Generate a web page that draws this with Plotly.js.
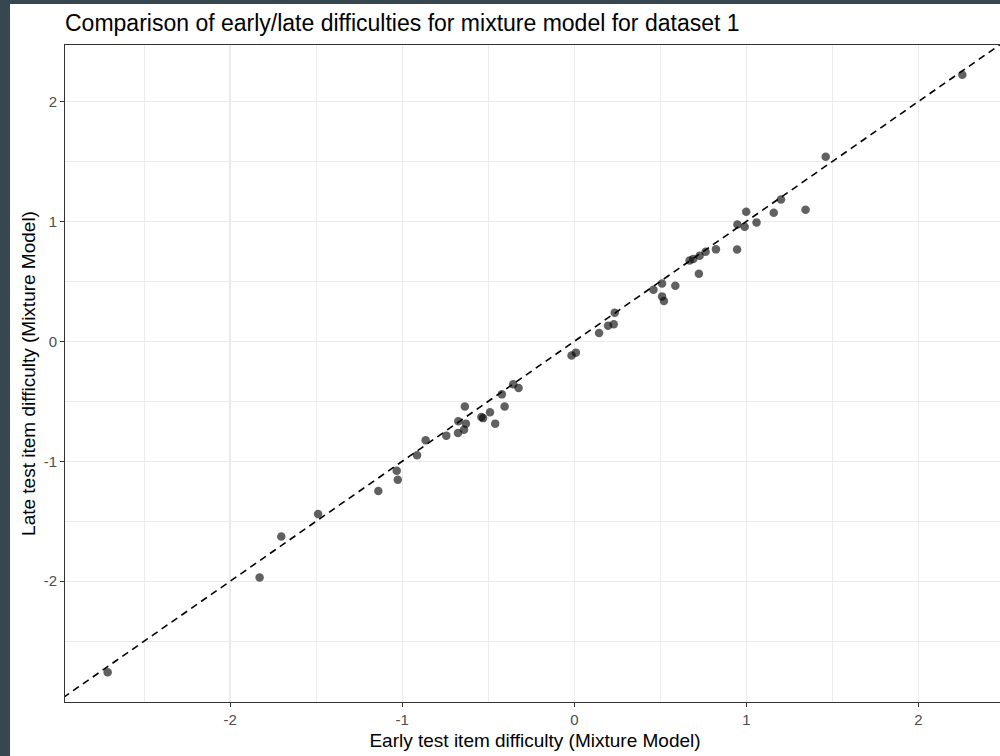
<!DOCTYPE html>
<html>
<head>
<meta charset="utf-8">
<script src="https://cdn.plot.ly/plotly-3.0.1.min.js"></script>
<style>
  html, body { margin: 0; padding: 0; width: 1000px; height: 756px; overflow: hidden; background: #37474f; }
  #chart { position: absolute; left: 10px; top: 4px; width: 995px; height: 752px; background: #ffffff; }
</style>
</head>
<body>
<div id="chart"></div>
<script>
// Early (x) vs late (y) item difficulties
const earlyDifficulty = [
  -2.712, -1.829, -1.703, -1.489, -1.139, -1.032, -1.026, -0.914, -0.864, -0.744,
  -0.676, -0.641, -0.630, -0.674, -0.636, -0.540, -0.530, -0.490, -0.460, -0.405,
  -0.421, -0.355, -0.324, -0.016, 0.009, 0.144, 0.196, 0.229, 0.235, 0.460,
  0.510, 0.510, 0.521, 0.587, 0.670, 0.691, 0.728, 0.763, 0.823, 0.724,
  0.946, 0.948, 0.990, 0.999, 1.059, 1.159, 1.201, 1.344, 1.461, 2.255
];
const lateDifficulty = [
  -2.758, -1.969, -1.628, -1.440, -1.248, -1.078, -1.153, -0.950, -0.825, -0.786,
  -0.764, -0.736, -0.686, -0.667, -0.544, -0.630, -0.640, -0.592, -0.686, -0.544,
  -0.442, -0.358, -0.389, -0.117, -0.094, 0.069, 0.131, 0.142, 0.239, 0.431,
  0.483, 0.375, 0.336, 0.463, 0.675, 0.686, 0.714, 0.748, 0.767, 0.564,
  0.765, 0.975, 0.956, 1.081, 0.992, 1.073, 1.182, 1.098, 1.540, 2.222
];
// identity reference line y = x
const identityX = [-4, 4];
const identityY = [-4, 4];

const titleText = 'Comparison of early/late difficulties for mixture model for dataset 1';
const xTitle = 'Early test item difficulty (Mixture Model)';
const yTitle = 'Late test item difficulty (Mixture Model)';
const tickVals = [-2, -1, 0, 1, 2];
const tickText = ['-2', '-1', '0', '1', '2'];

const FONT = '"Liberation Sans", Arial, Helvetica, sans-serif';

const traces = [
  {
    x: identityX, y: identityY, type: 'scatter', mode: 'lines',
    line: { color: '#000000', width: 1.6, dash: '7px,5px' },
    hoverinfo: 'skip', showlegend: false
  },
  {
    x: earlyDifficulty, y: lateDifficulty, type: 'scatter', mode: 'markers',
    marker: { color: 'rgba(0,0,0,0.62)', size: 8.5, line: { width: 0 } },
    showlegend: false
  }
];

function axisCommon(title, range, standoff) {
  return {
    range: range,
    title: { text: title, standoff: standoff, font: { family: FONT, size: 19, color: '#000000' } },
    tickmode: 'array', tickvals: tickVals, ticktext: tickText,
    tickfont: { family: FONT, size: 15, color: '#4d4d4d' },
    ticks: 'outside', ticklen: 4, tickwidth: 1, tickcolor: '#333333',
    showgrid: true, gridcolor: '#ebebeb', gridwidth: 1.4,
    minor: { dtick: 0.5, tick0: 0, showgrid: true, gridcolor: '#ebebeb', gridwidth: 1.0, ticks: '' },
    showline: true, linecolor: '#333333', linewidth: 1, mirror: true,
    zeroline: false, fixedrange: true
  };
}

const layout = {
  width: 995, height: 752,
  margin: { l: 55, r: 0, t: 41, b: 54, pad: 0 },
  paper_bgcolor: '#ffffff', plot_bgcolor: '#ffffff',
  font: { family: FONT, color: '#000000' },
  title: {
    text: titleText, font: { family: FONT, size: 23, color: '#000000' },
    xref: 'paper', x: 0, xanchor: 'left',
    yref: 'container', y: 1 - 19 / 752, yanchor: 'middle'
  },
  xaxis: axisCommon(xTitle, [-2.960, 2.503], 6),
  yaxis: axisCommon(yTitle, [-3.007, 2.471], 3),
  showlegend: false
};

Plotly.newPlot('chart', traces, layout, { displayModeBar: false, staticPlot: true });
</script>
</body>
</html>
